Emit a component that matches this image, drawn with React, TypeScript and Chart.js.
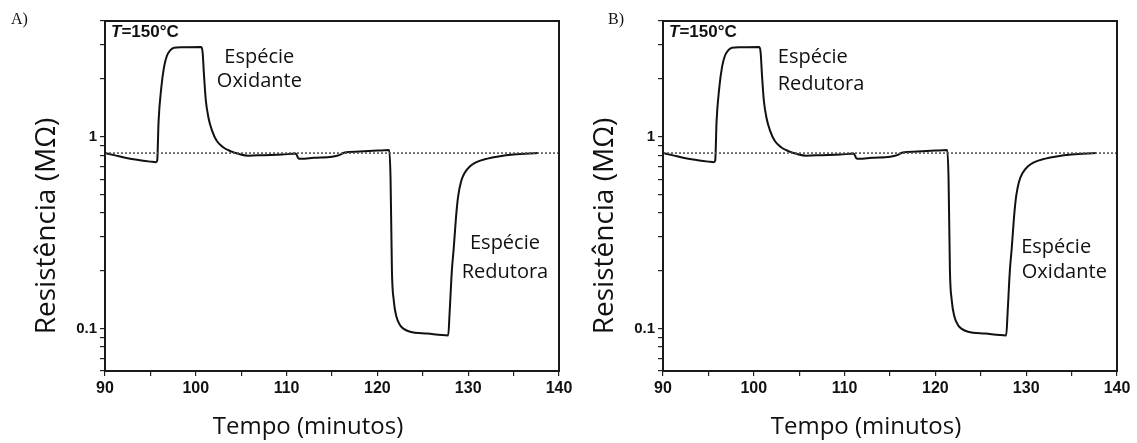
import React, { useEffect, useRef } from 'react';
import { Chart, registerables } from 'chart.js';

Chart.register(...registerables);

// ---- data ----
const timeMin = [
  90.0, 91.0, 92.5, 94.0, 95.0, 95.6, 95.75, 95.9, 96.2, 96.5, 96.8, 97.2, 97.6, 98.5, 100.6,
  100.75, 100.9, 101.1, 101.4, 101.8, 102.3, 103.0, 103.8, 104.8, 105.8, 107.5, 109.5, 111.0,
  111.3, 111.6, 113.0, 115.0, 115.8, 116.4, 118.0, 120.0, 121.3, 121.45, 121.6, 121.8, 122.1,
  122.5, 122.9, 123.6, 125.5, 127.8, 127.95, 128.2, 128.4, 128.7, 128.9, 129.2, 129.6, 130.2,
  130.9, 132.0, 133.5, 135.0, 137.7,
];
const resistanceMOhm = [
  0.82, 0.80, 0.77, 0.75, 0.74, 0.735, 0.75, 1.2, 1.8, 2.3, 2.62, 2.82, 2.9, 2.92, 2.93,
  2.75, 2.1, 1.55, 1.25, 1.07, 0.95, 0.88, 0.84, 0.81, 0.795, 0.8, 0.805, 0.815,
  0.77, 0.765, 0.775, 0.785, 0.8, 0.825, 0.835, 0.845, 0.85, 0.6, 0.2, 0.14, 0.115,
  0.104, 0.0995, 0.096, 0.094, 0.092, 0.12, 0.2, 0.26, 0.4, 0.49, 0.58, 0.645, 0.7,
  0.735, 0.765, 0.79, 0.805, 0.82,
];
const baselineTime = [90, 140];
const baselineValue = 0.82;

const xLabelValues = [90, 100, 110, 120, 130, 140];
const yTickValues = [0.06, 0.07, 0.08, 0.09, 0.1, 0.2, 0.3, 0.4, 0.5, 0.6, 0.7, 0.8, 0.9, 1, 2, 3, 4];
const yLabelValues = [0.1, 1];

const panelLetters = ['A)', 'B)'];
const topLabels = [['Espécie', 'Oxidante'], ['Espécie', 'Redutora']];
const bottomLabels = [['Espécie', 'Redutora'], ['Espécie', 'Oxidante']];
const xTitle = 'Tempo (minutos)';
const yTitle = 'Resistência (MΩ)';
const tempPrefix = 'T';
const tempSuffix = '=150°C';

type Lbl = { text: string; x: number; y: number };

function Panel(props: { left: number; letter: string; labels: Lbl[] }) {
  const ref = useRef<HTMLCanvasElement>(null);
  useEffect(() => {
    const canvas = ref.current!;
    const decor = {
      id: 'decor',
      afterDraw(chart: any) {
        const { ctx, chartArea: a, scales } = chart;
        ctx.save();
        // frame
        ctx.strokeStyle = '#1a1a1a';
        ctx.lineWidth = 2;
        ctx.strokeRect(a.left, a.top, a.right - a.left, a.bottom - a.top);
        ctx.fillStyle = '#111';
        // annotations
        ctx.font = '20px "Open Sans"';
        ctx.textAlign = 'center';
        ctx.textBaseline = 'middle';
        for (const l of props.labels) {
          ctx.fillText(l.text, scales.x.getPixelForValue(l.x), scales.y.getPixelForValue(l.y));
        }
        // T=150°C
        ctx.textAlign = 'left';
        ctx.font = 'italic bold 17px "Liberation Sans"';
        const tx = a.left + 6;
        const ty = a.top + 11;
        ctx.fillText(tempPrefix, tx, ty);
        const w = ctx.measureText(tempPrefix).width;
        ctx.font = 'bold 17px "Liberation Sans"';
        ctx.fillText(tempSuffix, tx + w, ty);
        // axis titles
        ctx.textAlign = 'center';
        ctx.font = '24px "Open Sans"';
        ctx.fillText(xTitle, a.left + 203, 427);
        ctx.save();
        ctx.translate(47, 226);
        ctx.rotate(-Math.PI / 2);
        ctx.font = '28px "Open Sans"';
        ctx.fillText(yTitle, 0, 0);
        ctx.restore();
        // panel letter
        ctx.textAlign = 'left';
        ctx.font = '16px "Liberation Serif"';
        ctx.fillText(props.letter, props.left === 0 ? 11 : 50, 20);
        ctx.restore();
      },
    };
    const tickFont = { family: '"Liberation Sans"', weight: 'bold' as const };
    const chart = new Chart(canvas, {
      type: 'line',
      data: {
        datasets: [
          {
            data: baselineTime.map((t) => ({ x: t, y: baselineValue })),
            borderColor: '#555',
            borderWidth: 1.6,
            borderDash: [2, 2],
            pointRadius: 0,
            fill: false,
          },
          {
            data: timeMin.map((t, i) => ({ x: t, y: resistanceMOhm[i] })),
            borderColor: '#111',
            borderWidth: 2,
            pointRadius: 0,
            cubicInterpolationMode: 'monotone',
            fill: false,
          },
        ],
      },
      options: {
        responsive: false,
        animation: false,
        layout: { padding: { left: 0, top: 21, right: 20, bottom: 0 } },
        plugins: { legend: { display: false }, tooltip: { enabled: false }, title: { display: false } },
        scales: {
          x: {
            type: 'linear',
            min: 90,
            max: 140,
            afterFit: (s: any) => {
              s.height = 72;
            },
            ticks: {
              stepSize: 5,
              autoSkip: false,
              maxRotation: 0,
              padding: 3,
              color: '#111',
              font: { ...tickFont, size: 16 },
              callback: (v: any) => (xLabelValues.includes(Number(v)) ? String(v) : ''),
            },
            grid: { drawOnChartArea: false, drawTicks: true, tickLength: 5, color: '#222', lineWidth: 1.2 },
            border: { display: true, color: '#222', width: 2 },
          },
          y: {
            type: 'logarithmic',
            min: 0.06,
            max: 4,
            afterFit: (s: any) => {
              s.width = 105;
            },
            afterBuildTicks: (s: any) => {
              s.ticks = yTickValues.map((v) => ({ value: v }));
            },
            ticks: {
              autoSkip: false,
              padding: 3,
              color: '#111',
              font: { ...tickFont, size: 15 },
              callback: (v: any) => (yLabelValues.includes(Number(v)) ? String(v) : ''),
            },
            grid: { drawOnChartArea: false, drawTicks: true, tickLength: 5, color: '#222', lineWidth: 1.2 },
            border: { display: true, color: '#222', width: 2 },
          },
        },
      },
      plugins: [decor],
    } as any);
    return () => chart.destroy();
  }, []);
  return (
    <canvas
      ref={ref}
      width={579}
      height={443}
      style={{ position: 'absolute', left: props.left, top: 0, width: 579, height: 443 }}
    />
  );
}

export default function App() {
  const labelsA: Lbl[] = [
    { text: topLabels[0][0], x: 107.0, y: 2.59 },
    { text: topLabels[0][1], x: 107.0, y: 1.94 },
    { text: bottomLabels[0][0], x: 134.05, y: 0.279 },
    { text: bottomLabels[0][1], x: 134.05, y: 0.196 },
  ];
  const labelsB: Lbl[] = [
    { text: topLabels[1][0], x: 106.5, y: 2.59 },
    { text: topLabels[1][1], x: 107.4, y: 1.88 },
    { text: bottomLabels[1][0], x: 133.3, y: 0.265 },
    { text: bottomLabels[1][1], x: 134.2, y: 0.196 },
  ];
  return (
    <div style={{ position: 'absolute', left: 0, top: 0, width: 1137, height: 443, background: '#fff' }}>
      <Panel left={0} letter={panelLetters[0]} labels={labelsA} />
      <Panel left={558} letter={panelLetters[1]} labels={labelsB} />
    </div>
  );
}
